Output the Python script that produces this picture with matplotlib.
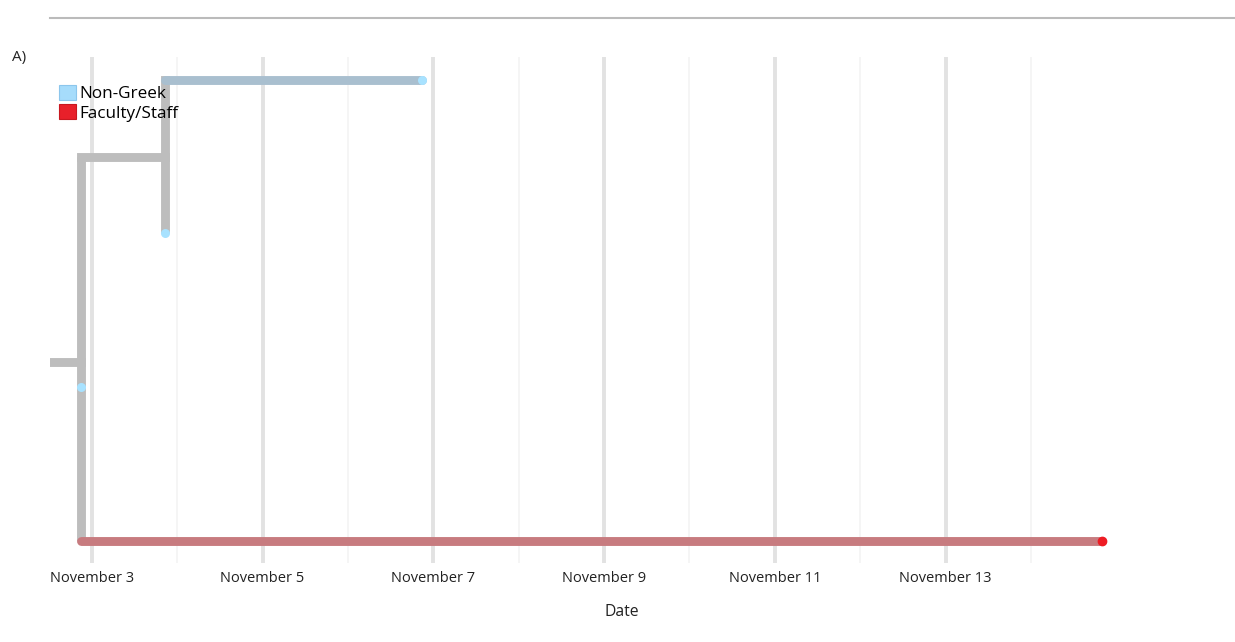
import matplotlib.pyplot as plt
from matplotlib.lines import Line2D
from matplotlib.patches import Patch

plt.rcParams["font.family"] = ["Open Sans", "DejaVu Sans"]

# tips (day of November, row from bottom)
tip_dates = [6.869, 3.858, 2.873, 14.836]
tip_rows = [3, 2, 1, 0]
tip_groups = ["Non-Greek", "Non-Greek", "Non-Greek", "Faculty/Staff"]
tip_branch_colors = ["#a9bfcf", "#bdbdbd", "#bdbdbd", "#c77b7f"]

# internal nodes
node1_date = 3.858          # parent of tips 0, 1
root_date = 2.873           # parent of node1, tip 2, tip 3
root_origin = 2.504

groups = ["Non-Greek", "Faculty/Staff"]
group_colors = {"Non-Greek": "#a6dcfb", "Faculty/Staff": "#e8202a"}
group_edges = {"Non-Greek": "#8cc6ec", "Faculty/Staff": "#c81820"}
tip_dot_colors = {"Non-Greek": "#a8e2ff", "Faculty/Staff": "#ee1c24"}

major_days = [3, 5, 7, 9, 11, 13]
minor_days = [4, 6, 8, 10, 12, 14]
tick_labels = [f"November {d}" for d in major_days]

GRAY = "#bdbdbd"
LW = 6.4

fig = plt.figure(figsize=(12.35, 6.42), dpi=100)
ax = fig.add_axes([49.5 / 1235, 79 / 642, 1185.5 / 1235, 506 / 642])

node1_row = (tip_rows[0] + tip_rows[1]) / 2
root_row = (node1_row + tip_rows[2] + tip_rows[3]) / 3

# grid
for d in minor_days:
    ax.axvline(d, color="#f4f4f4", lw=1.2, zorder=0)
for d in major_days:
    ax.axvline(d, color="#e2e2e2", lw=2.8, zorder=0)

# gray connectors
vkw = dict(color=GRAY, lw=LW, solid_capstyle="butt", zorder=2)
hkw = dict(color=GRAY, lw=LW, solid_capstyle="projecting", zorder=2)
ax.plot([root_date, root_date], [tip_rows[3], node1_row], **vkw)
ax.plot([node1_date, node1_date], [tip_rows[1], node1_row], **vkw)
ax.plot([node1_date, node1_date], [node1_row, tip_rows[0]], **hkw)
ax.plot([root_origin, root_date], [root_row, root_row], **hkw)
ax.plot([root_date, node1_date], [node1_row, node1_row], **hkw)

# tip branches
tip_parents = [node1_date, node1_date, root_date, root_date]
for d, r, p, c in zip(tip_dates, tip_rows, tip_parents, tip_branch_colors):
    if d > p:
        ax.plot([p, d], [r, r], color=c, lw=LW, solid_capstyle="round", zorder=3)

# tip dots
for d, r, g in zip(tip_dates, tip_rows, tip_groups):
    ms = 7 if g == "Faculty/Staff" else 6.5
    ax.plot(d, r, "o", ms=ms, color=tip_dot_colors[g], mec="none", zorder=4)

ax.set_xlim(root_origin, 16.39)
ax.set_ylim(-0.143, 3.147)
ax.set_xticks(major_days)
ax.set_xticklabels(tick_labels, fontsize=10.5, color="#222222")
ax.set_yticks([])
ax.tick_params(axis="x", length=0, pad=6)
for s in ax.spines.values():
    s.set_visible(False)
ax.set_xlabel("Date", fontsize=11.3, color="#222222")
ax.xaxis.set_label_coords((622 - 49.5) / 1185.5, -0.082)

handles = [Patch(facecolor=group_colors[g], edgecolor=group_edges[g], lw=0.8, label=g) for g in groups]
leg = ax.legend(handles=handles, loc="upper left", bbox_to_anchor=((59 - 49.5) / 1185.5, (563 - 85) / 506),
                frameon=False, fontsize=12.3, handlelength=1.0, handleheight=1.0,
                handletextpad=0.2, labelspacing=0.1, borderpad=0, borderaxespad=0)

fig.text(12 / 1235, 1 - 57 / 642, "A)", fontsize=11, va="center", ha="left", color="#222222")
fig.add_artist(Line2D([50 / 1235, 1.0], [1 - 18 / 642, 1 - 18 / 642], color="#bbbbbb", lw=1.5))

fig.savefig("out.png", dpi=100)
